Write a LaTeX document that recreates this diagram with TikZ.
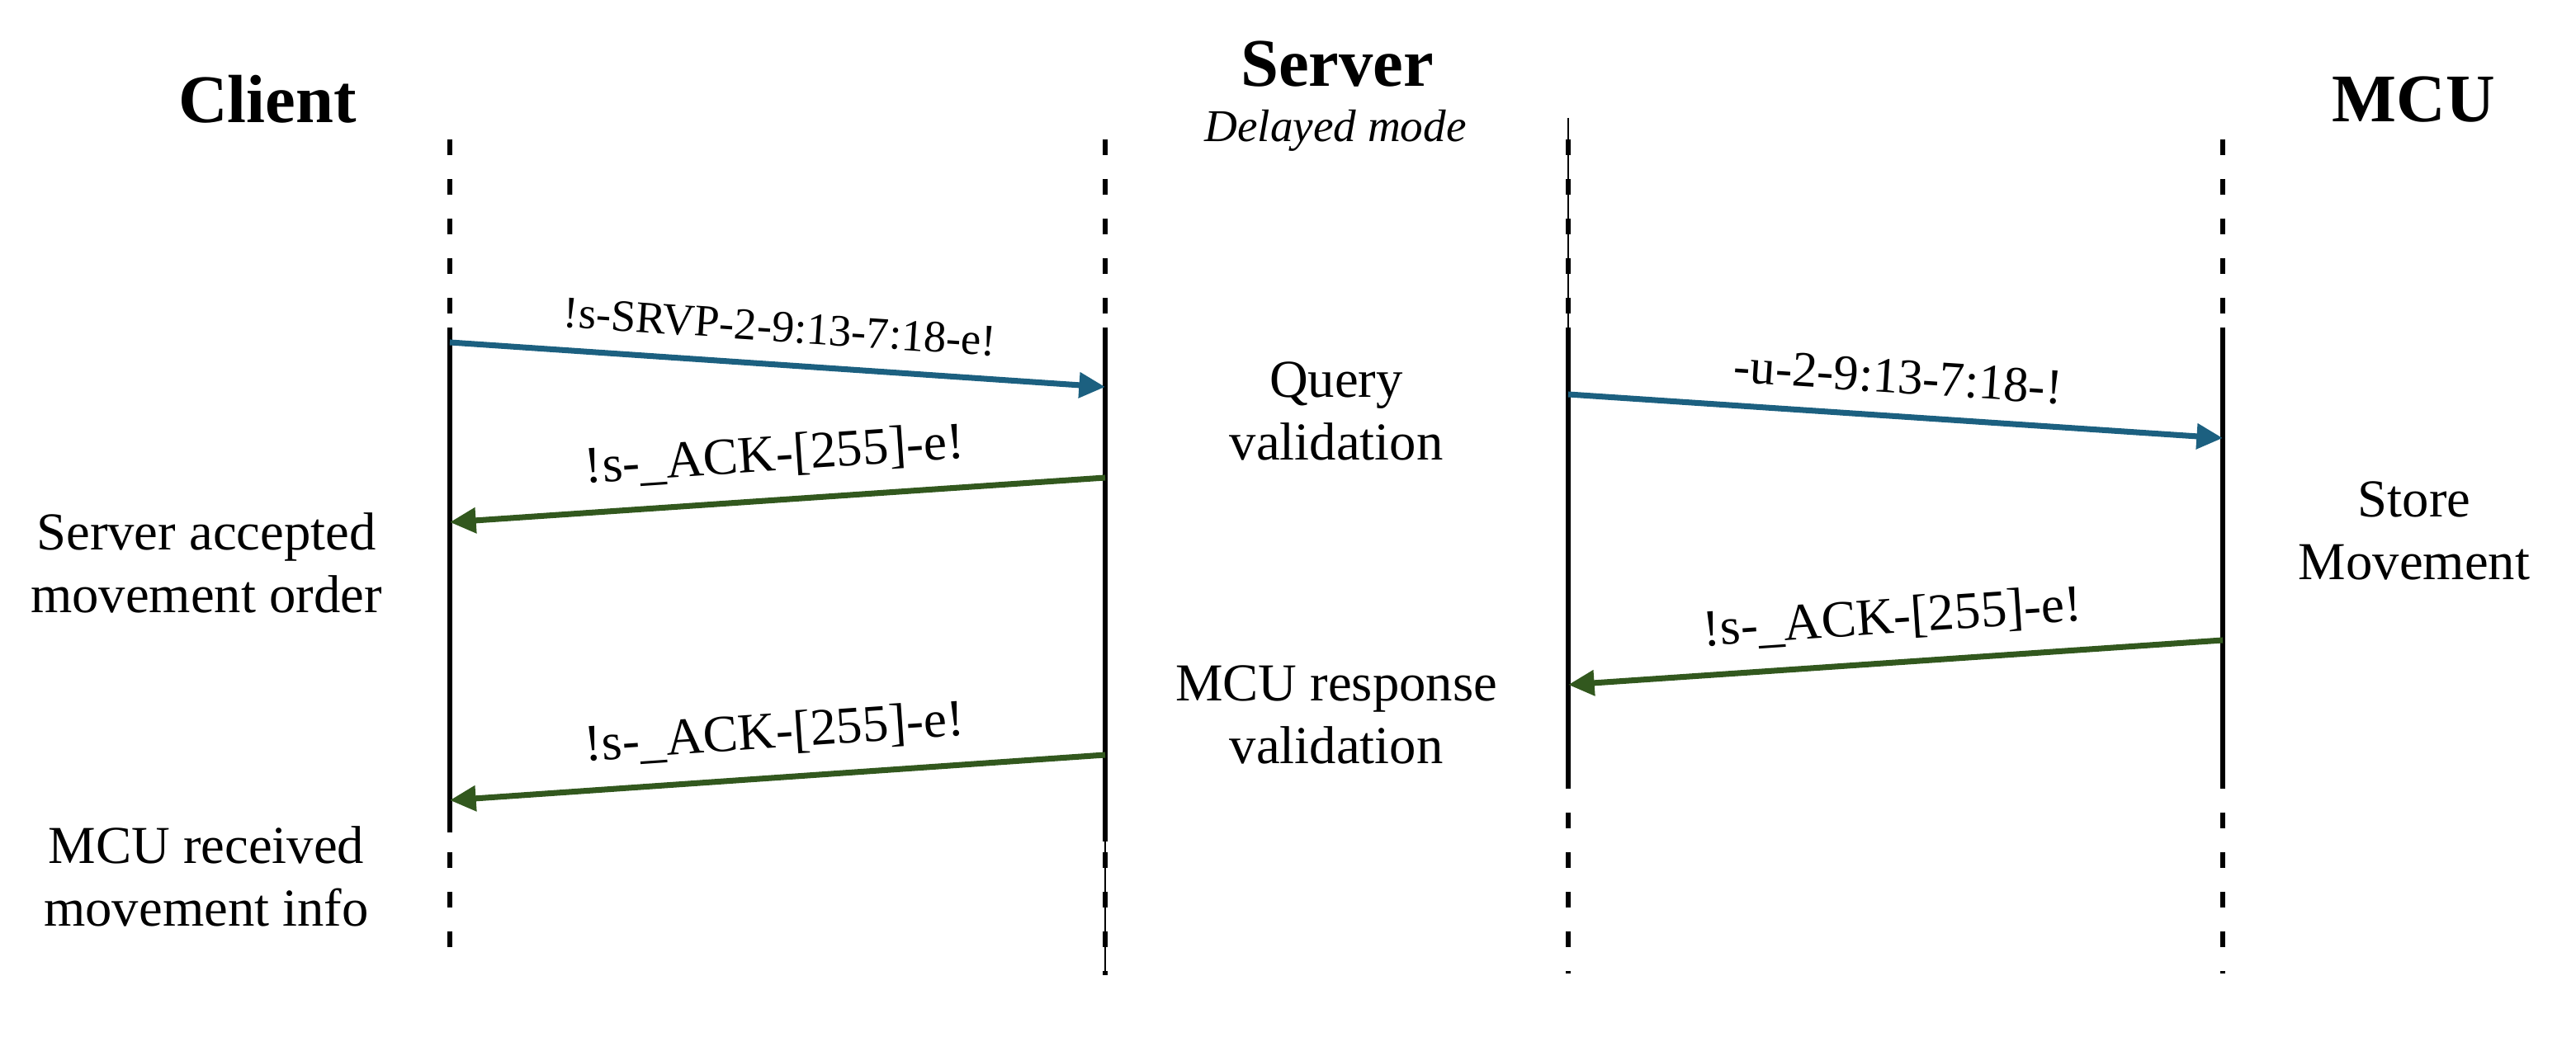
\documentclass[tikz,border=0pt]{standalone}
\usepackage{fontspec}
\setmainfont{Liberation Serif}
\usetikzlibrary{arrows.meta,positioning}
\definecolor{reqblue}{RGB}{28,96,128}
\definecolor{ackgreen}{RGB}{50,88,30}

\begin{document}
\begin{tikzpicture}[
  title/.style={font=\fontsize{23.5}{28}\selectfont\bfseries},
  note/.style={align=center, font=\fontsize{18.4}{21.6}\selectfont},
  lifeline/.style={line width=1.8pt},
  idle/.style={line width=1.8pt, dash pattern=on 0.19cm off 0.29cm},
  thinline/.style={line width=0.4pt},
  msg/.style={line width=2pt, -{Triangle[length=9pt,width=8.5pt]}},
  req/.style={msg, draw=reqblue},
  ack/.style={msg, draw=ackgreen},
  lbl/.style={midway, sloped, above=0.12cm, font=\fontsize{18}{21}\selectfont}]
\useasboundingbox (0,0) rectangle (31.21,-12.8);

\node[title] (client) at (3.24,-1.20) {Client};
\node[title] (server) at (16.20,-0.78) {Server};
\node[font=\fontsize{15.7}{19}\selectfont\itshape] (mode) at (16.18,-1.58) {Delayed mode};
\node[title] (mcu) at (29.24,-1.21) {MCU};

\coordinate (cl-top) at (5.45,-1.69);
\coordinate (cl-on) at (5.45,-3.97);
\coordinate (cl-off) at (5.45,-10.09);
\coordinate (cl-bot) at (5.45,-11.55);
\coordinate (sl-top) at (13.39,-1.69);
\coordinate (sl-on) at (13.39,-3.97);
\coordinate (sl-off) at (13.39,-10.20);
\coordinate (sl-bot) at (13.39,-11.82);
\coordinate (sr-thin) at (19.00,-1.43);
\coordinate (sr-top) at (19.00,-1.69);
\coordinate (sr-on) at (19.00,-3.97);
\coordinate (sr-off) at (19.00,-9.48);
\coordinate (sr-bot) at (19.00,-11.80);
\coordinate (mc-top) at (26.93,-1.69);
\coordinate (mc-on) at (26.93,-3.97);
\coordinate (mc-off) at (26.93,-9.48);
\coordinate (mc-bot) at (26.93,-11.80);

\draw[idle] (cl-top) -- (cl-bot);
\draw[lifeline] (cl-on) -- (cl-off);
\draw[idle] (sl-top) -- (sl-bot);
\draw[thinline] (sl-off) -- (sl-bot);
\draw[lifeline] (sl-on) -- (sl-off);
\draw[thinline] (sr-thin) -- (sr-on);
\draw[idle] (sr-top) -- (sr-bot);
\draw[lifeline] (sr-on) -- (sr-off);
\draw[idle] (mc-top) -- (mc-bot);
\draw[lifeline] (mc-on) -- (mc-off);

\coordinate (c1) at (5.45,-4.15);
\coordinate (s1) at (13.39,-4.69);
\coordinate (s2) at (13.39,-5.79);
\coordinate (c2) at (5.45,-6.33);
\coordinate (s3) at (13.39,-9.15);
\coordinate (c3) at (5.45,-9.70);
\coordinate (r1) at (19.00,-4.78);
\coordinate (m1) at (26.93,-5.31);
\coordinate (m2) at (26.93,-7.76);
\coordinate (r2) at (19.00,-8.30);

\draw[req] (c1) -- node[lbl, font=\fontsize{15.5}{18}\selectfont] {!s-SRVP-2-9:13-7:18-e!} (s1);
\draw[ack] (s2) -- node[lbl] {!s-\_ACK-[255]-e!} (c2);
\draw[ack] (s3) -- node[lbl] {!s-\_ACK-[255]-e!} (c3);
\draw[req] (r1) -- node[lbl, font=\fontsize{17.3}{21}\selectfont] {-u-2-9:13-7:18-!} (m1);
\draw[ack] (m2) -- node[lbl] {!s-\_ACK-[255]-e!} (r2);

\node[note] (accepted) at (2.50,-6.82) {Server accepted\\movement order};
\node[note] (received) at (2.50,-10.62) {MCU received\\movement info};
\node[note] (query) at (16.19,-4.98) {Query\\validation};
\node[note] (respval) at (16.19,-8.66) {MCU response\\validation};
\node[note] (store) at (29.25,-6.43) {Store\\Movement};
\end{tikzpicture}
\end{document}
